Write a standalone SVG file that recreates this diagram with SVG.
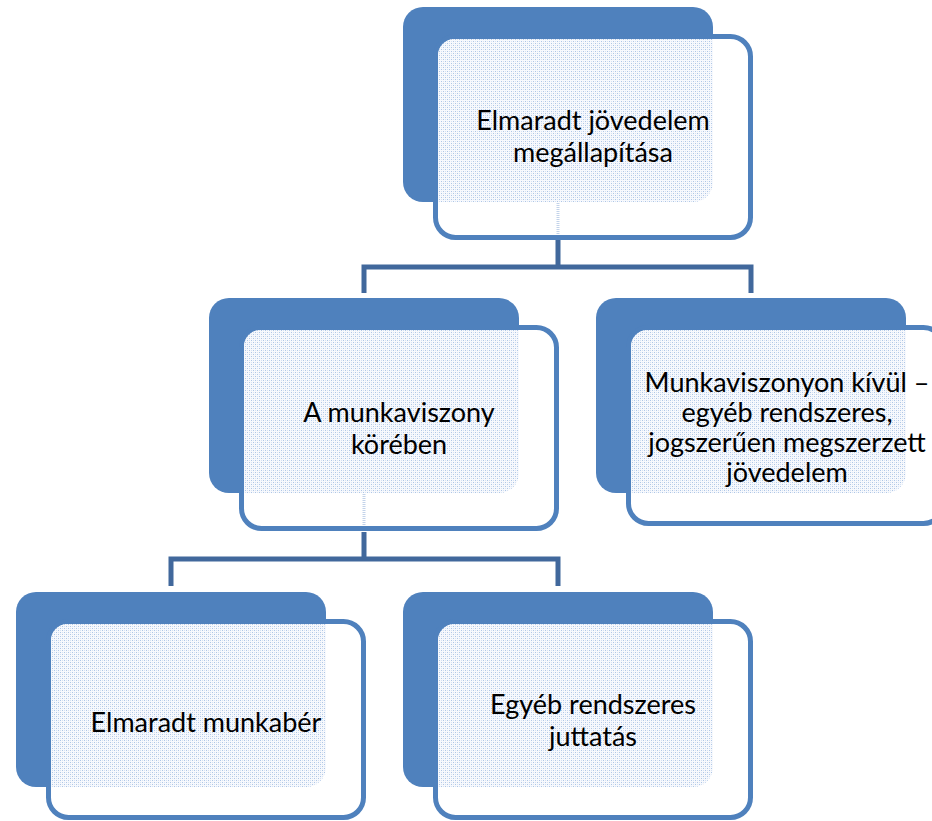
<svg xmlns="http://www.w3.org/2000/svg" width="932" height="821" viewBox="0 0 932 821">
<style>
.back{fill:#4f81bd}
.front{fill:#ffffff;stroke:#4f81bd;stroke-width:5}
.pat{fill:url(#dots)}
.conn{fill:none;stroke:#41689c;stroke-width:5}
.ghost{stroke:#c3d3ea;stroke-width:3;stroke-dasharray:1 1}
.lbl{font-family:Lato,"Noto Sans",sans-serif;font-size:27px;fill:#000;text-anchor:middle}
</style>
<defs>
<pattern id="dots" width="4" height="4" patternUnits="userSpaceOnUse">
<rect width="4" height="4" fill="#f7f9fd"/>
<rect x="0" y="0" width="1" height="1" fill="#aec6e6"/>
<rect x="2" y="2" width="1" height="1" fill="#aec6e6"/>
<rect x="2" y="0" width="1" height="1" fill="#d6e2f2"/>
<rect x="0" y="2" width="1" height="1" fill="#d6e2f2"/>
</pattern>
<g id="shape">
<rect class="back" x="0" y="0" width="310" height="195" rx="20"/>
<rect class="front" x="32.5" y="29.5" width="315" height="201" rx="20"/>
<path class="pat" d="M35,48 A16,16 0 0 1 51,32 H310 V175 A20,20 0 0 1 290,195 H35 Z"/>
<line class="ghost" x1="155" y1="196" x2="155" y2="227"/>
</g>
<g id="shapeB">
<rect class="back" x="0" y="0" width="310" height="195" rx="20"/>
<rect class="front" x="32.5" y="29.5" width="315" height="196" rx="20"/>
<path class="pat" d="M35,48 A16,16 0 0 1 51,32 H310 V175 A20,20 0 0 1 290,195 H35 Z"/>
</g>
</defs>
<g id="connectors">
<path class="conn" d="M558,240 V267 M364,293 V267 H751 V293"/>
<path class="conn" d="M364,532 V559 M171,586 V559 H558 V586"/>
</g>
<g id="node-top">
<use href="#shape" x="403" y="7"/>
<text class="lbl" x="593" y="130">Elmaradt jövedelem</text>
<text class="lbl" x="593" y="162">megállapítása</text>
</g>
<g id="node-munkaviszony">
<use href="#shape" x="209" y="298"/>
<text class="lbl" x="399" y="422">A munkaviszony</text>
<text class="lbl" x="399" y="454">körében</text>
</g>
<g id="node-kivul">
<use href="#shapeB" x="596" y="298"/>
<text class="lbl" x="787" y="392">Munkaviszonyon kívül –</text>
<text class="lbl" x="787" y="422">egyéb rendszeres,</text>
<text class="lbl" x="787" y="452">jogszerűen megszerzett</text>
<text class="lbl" x="787" y="482">jövedelem</text>
</g>
<g id="node-munkaber">
<use href="#shapeB" x="16" y="592"/>
<text class="lbl" x="206" y="732">Elmaradt munkabér</text>
</g>
<g id="node-juttatas">
<use href="#shapeB" x="403" y="592"/>
<text class="lbl" x="593" y="714">Egyéb rendszeres</text>
<text class="lbl" x="593" y="746">juttatás</text>
</g>
</svg>
